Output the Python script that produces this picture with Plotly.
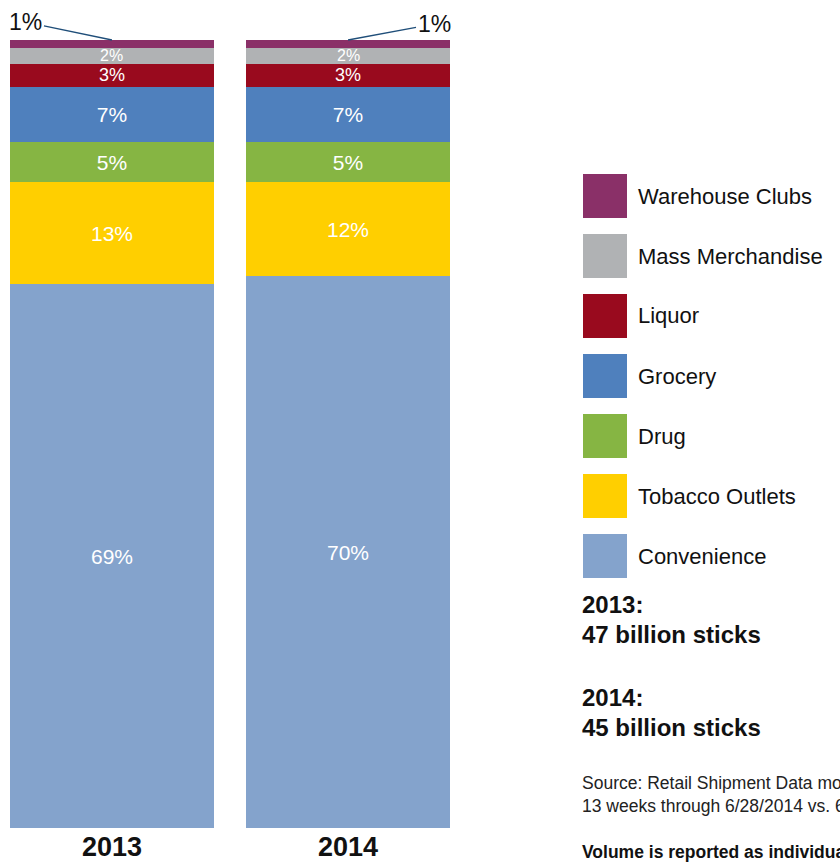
import plotly.graph_objects as go

# Share of cigarette stick volume by retail channel
years = ["2013", "2014"]
channels = ["Convenience", "Tobacco Outlets", "Drug", "Grocery", "Liquor",
            "Mass Merchandise", "Warehouse Clubs"]
convenience = [69, 70]
tobacco_outlets = [13, 12]
drug = [5, 5]
grocery = [7, 7]
liquor = [3, 3]
mass_merchandise = [2, 2]
warehouse_clubs = [1, 1]
series = [convenience, tobacco_outlets, drug, grocery, liquor,
          mass_merchandise, warehouse_clubs]
colors = ["#84A3CC", "#FFCF00", "#86B543", "#4F80BD", "#990A1E",
          "#B0B2B4", "#8A3068"]
volume_notes = [("2013:", "47 billion sticks"), ("2014:", "45 billion sticks")]

W, H = 840, 862
SANS = "Liberation Sans, Arial, sans-serif"

xpos = list(range(len(years)))
# thin segments are labelled separately at a fixed size (no auto-shrinking)
fixed_labels = {"Liquor": 18, "Mass Merchandise": 16}
fig = go.Figure()
for name, vals, col in zip(channels, series, colors):
    inside = name not in fixed_labels and name != "Warehouse Clubs"
    fig.add_trace(go.Bar(
        x=xpos, y=vals, name=name, width=0.864,
        marker=dict(color=col, line=dict(width=0)),
        text=[f"{v}%" if inside else "" for v in vals],
        textposition="inside", insidetextanchor="middle",
        textfont=dict(color="white", size=21, family=SANS),
        hoverinfo="skip", showlegend=False,
    ))

for k, (name, vals) in enumerate(zip(channels, series)):
    if name not in fixed_labels:
        continue
    for i in xpos:
        base = sum(s[i] for s in series[:k])
        fig.add_annotation(
            x=i, y=base + vals[i] / 2, xref="x", yref="y",
            text=f"{vals[i]}%", showarrow=False, yanchor="middle",
            font=dict(size=fixed_labels[name], family=SANS, color="white"),
        )

# callout labels for the thin top segment
top = [sum(s[i] for s in series) for i in xpos]
for i, (ax, ay) in zip(xpos, [(-86, -18), (86, -16)]):
    fig.add_annotation(
        x=i, y=top[i], xref="x", yref="y", text=f"{warehouse_clubs[i]}%",
        showarrow=True, arrowhead=0, arrowwidth=1.3, arrowcolor="#1F4E79",
        ax=ax, ay=ay, font=dict(size=23, family=SANS, color="#111111"),
    )

# year labels under the bars
for i, yr in zip(xpos, years):
    fig.add_annotation(
        x=i, y=(H - 847) / H, xref="x", yref="paper", text=f"<b>{yr}</b>",
        showarrow=False, yanchor="middle",
        font=dict(size=27, family=SANS, color="#111111"),
    )

# legend drawn as large swatches, top entry = top of stack
sq = 44
for k, (name, col) in enumerate(zip(channels[::-1], colors[::-1])):
    top_px = 174 + 60 * k
    fig.add_shape(type="rect", xref="paper", yref="paper",
                  x0=583 / W, x1=(583 + sq) / W,
                  y0=(H - top_px - sq) / H, y1=(H - top_px) / H,
                  fillcolor=col, line=dict(width=0))
    fig.add_annotation(x=636 / W, y=(H - top_px - sq / 2) / H,
                       xref="paper", yref="paper", text=name,
                       showarrow=False, xanchor="left", yanchor="middle",
                       font=dict(size=22, family=SANS, color="#111111"))

# total volume notes
for (yr, vol), y0 in zip(volume_notes, [604, 697]):
    fig.add_annotation(x=580 / W, y=(H - y0) / H, xref="paper", yref="paper",
                       text=f"<b>{yr}</b>", showarrow=False,
                       xanchor="left", yanchor="middle",
                       font=dict(size=24, family=SANS, color="#111111"))
    fig.add_annotation(x=580 / W, y=(H - y0 - 30) / H, xref="paper", yref="paper",
                       text=f"<b>{vol}</b>", showarrow=False,
                       xanchor="left", yanchor="middle",
                       font=dict(size=24, family=SANS, color="#111111"))

fig.add_annotation(x=580 / W, y=(H - 794) / H, xref="paper", yref="paper",
                   text="Source: Retail Shipment Data monitored by MSAi,<br>"
                        "13 weeks through 6/28/2014 vs. 6/29/2013",
                   showarrow=False, xanchor="left", yanchor="middle", align="left",
                   font=dict(size=17.5, family=SANS, color="#222222"))
fig.add_annotation(x=580 / W, y=(H - 852) / H, xref="paper", yref="paper",
                   text="<b>Volume is reported as individual sticks</b>",
                   showarrow=False, xanchor="left", yanchor="middle",
                   font=dict(size=17.5, family=SANS, color="#111111"))

fig.update_layout(
    width=W, height=H, barmode="stack", bargap=0,
    margin=dict(l=0, r=0, t=0, b=0),
    paper_bgcolor="white", plot_bgcolor="white",
    xaxis=dict(domain=[10 / W, 450 / W], range=[-0.432, 1.432],
               visible=False, fixedrange=True),
    yaxis=dict(domain=[34 / H, 822 / H], range=[0, 100],
               visible=False, fixedrange=True),
)

fig.write_html("out.html")
